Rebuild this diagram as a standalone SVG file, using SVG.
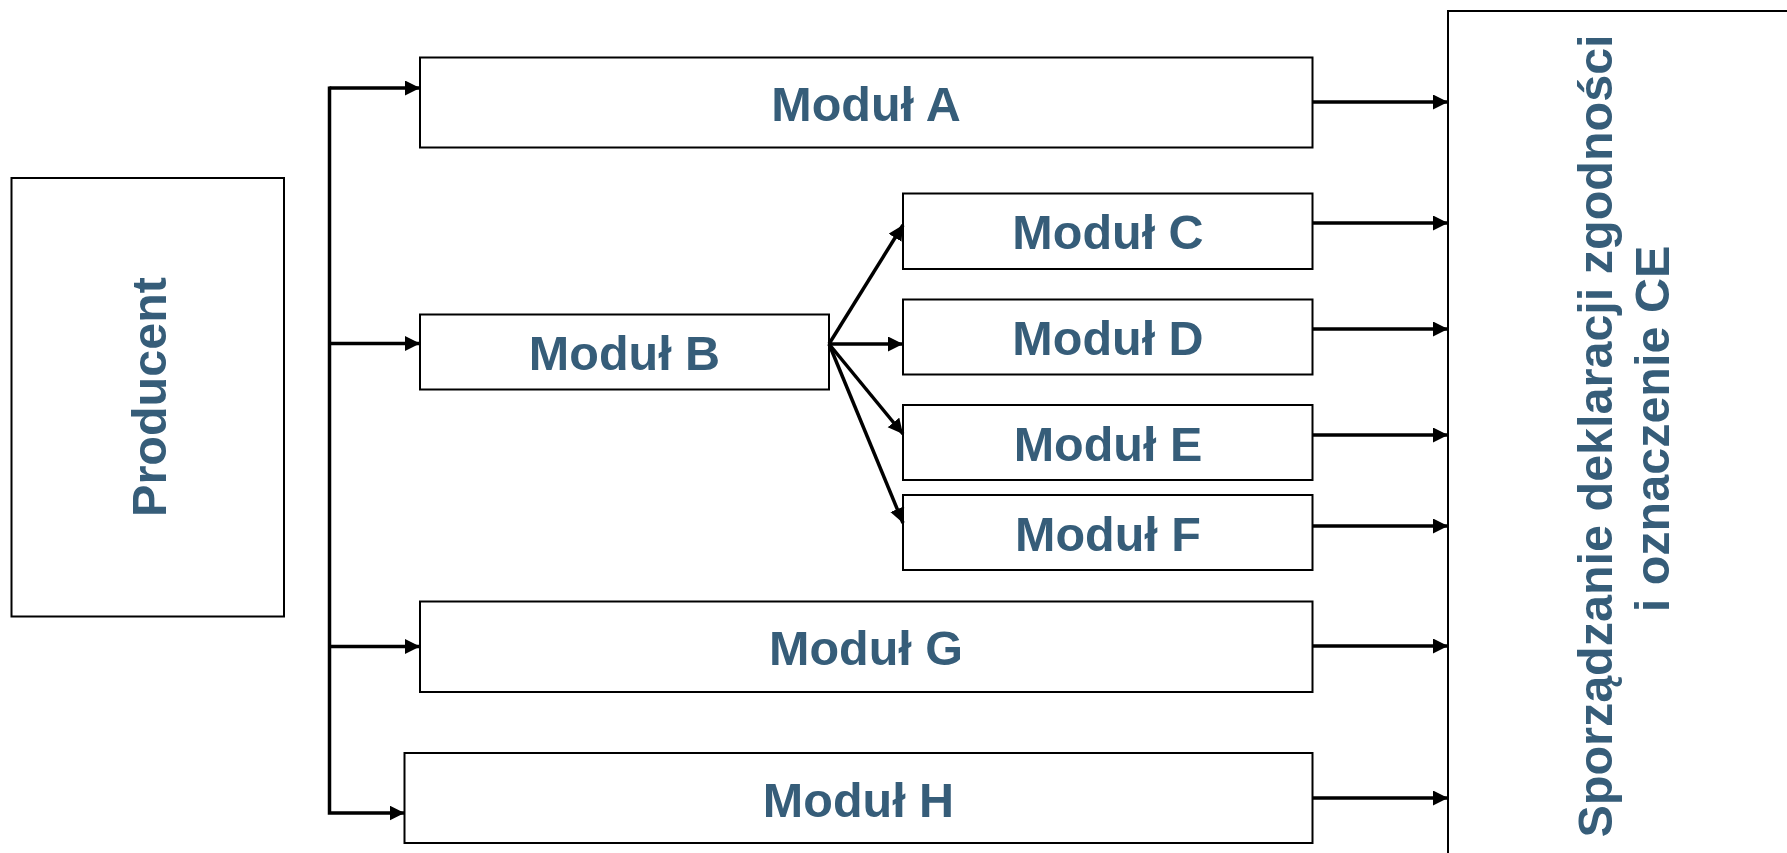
<svg xmlns="http://www.w3.org/2000/svg" width="1787" height="853" viewBox="0 0 1787 853">
<style>
.box{fill:#fff;stroke:#000;stroke-width:2}
.lbl{font-family:"Liberation Sans",Arial,sans-serif;font-weight:bold;font-size:48.5px;fill:#365D79;text-anchor:middle}
.ln{fill:none;stroke:#000;stroke-width:3.5}
</style>
<defs>
<marker id="ah" markerUnits="userSpaceOnUse" markerWidth="16" markerHeight="16" refX="15" refY="7.5" orient="auto">
<path d="M0,0 L15,7.5 L0,15 Z" fill="#000"/>
</marker>
</defs>
<rect width="1787" height="853" fill="#fff"/>
<g id="producent">
<rect class="box" x="11.5" y="178" width="272.5" height="438.5"/>
<text class="lbl" font-size="49" transform="translate(165.5,397) rotate(-90)">Producent</text>
</g>
<g id="modul-a">
<rect class="box" x="420" y="57.5" width="892.5" height="90"/>
<text class="lbl" x="866" y="120.5">Moduł A</text>
</g>
<g id="modul-b">
<rect class="box" x="420" y="314.5" width="409" height="75"/>
<text class="lbl" x="624.5" y="369.5">Moduł B</text>
</g>
<g id="modul-c">
<rect class="box" x="903" y="193.5" width="409.5" height="75.5"/>
<text class="lbl" x="1108" y="249">Moduł C</text>
</g>
<g id="modul-d">
<rect class="box" x="903" y="299.5" width="409.5" height="75"/>
<text class="lbl" x="1108" y="354.5">Moduł D</text>
</g>
<g id="modul-e">
<rect class="box" x="903" y="405" width="409.5" height="75"/>
<text class="lbl" x="1108" y="460.5">Moduł E</text>
</g>
<g id="modul-f">
<rect class="box" x="903" y="495" width="409.5" height="75"/>
<text class="lbl" x="1108" y="550.5">Moduł F</text>
</g>
<g id="modul-g">
<rect class="box" x="420" y="601.5" width="892.5" height="90.5"/>
<text class="lbl" x="866" y="664.5">Moduł G</text>
</g>
<g id="modul-h">
<rect class="box" x="404.5" y="753" width="908" height="90"/>
<text class="lbl" x="858.5" y="816.5">Moduł H</text>
</g>
<g id="deklaracja">
<rect class="box" x="1448" y="11" width="400" height="900"/>
<text class="lbl" font-size="48.8" transform="translate(1612,436) rotate(-90)">Sporządzanie deklaracji zgodności</text>
<text class="lbl" font-size="48.8" transform="translate(1669,429) rotate(-90)">i oznaczenie CE</text>
</g>
<g id="connectors">
<path class="ln" d="M329.5,86.5 V813 H404.5" marker-end="url(#ah)"/>
<path class="ln" d="M329.5,88 H420" marker-end="url(#ah)"/>
<path class="ln" d="M329.5,343.5 H420" marker-end="url(#ah)"/>
<path class="ln" d="M329.5,646.5 H420" marker-end="url(#ah)"/>
<path class="ln" d="M829,344 L903,225" marker-end="url(#ah)"/>
<path class="ln" d="M829,344 L903,344" marker-end="url(#ah)"/>
<path class="ln" d="M829,344 L903,434" marker-end="url(#ah)"/>
<path class="ln" d="M829,344 L903,523" marker-end="url(#ah)"/>
<path class="ln" d="M1312.5,102 H1448" marker-end="url(#ah)"/>
<path class="ln" d="M1312.5,223 H1448" marker-end="url(#ah)"/>
<path class="ln" d="M1312.5,329 H1448" marker-end="url(#ah)"/>
<path class="ln" d="M1312.5,435 H1448" marker-end="url(#ah)"/>
<path class="ln" d="M1312.5,526 H1448" marker-end="url(#ah)"/>
<path class="ln" d="M1312.5,646 H1448" marker-end="url(#ah)"/>
<path class="ln" d="M1312.5,798 H1448" marker-end="url(#ah)"/>
</g>
</svg>
